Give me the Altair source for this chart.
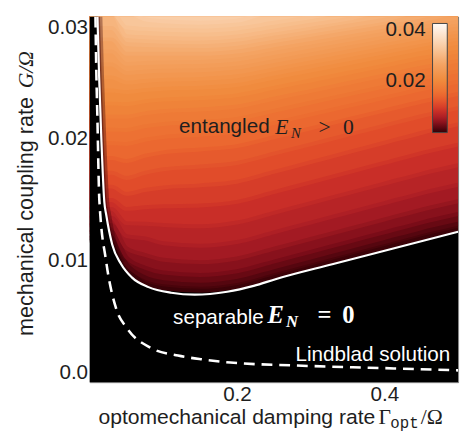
import altair as alt
import pandas as pd

# ---------------- data ----------------
# E_N contour lines traced on the picture: G/Omega of each level at these Gamma/Omega
# (0.0304 = level not reached inside the plotted range)
contour_gamma = [0.0, 0.03, 0.05, 0.075, 0.1, 0.15, 0.2, 0.25, 0.3, 0.35, 0.4, 0.45, 0.5]
levels = [0.0005, 0.0015, 0.003, 0.0045, 0.006, 0.0075, 0.009, 0.0105, 0.012, 0.0135, 0.015, 0.0165,
          0.018, 0.0195, 0.021, 0.0225, 0.024, 0.0255, 0.027, 0.0285, 0.030, 0.0315, 0.033]
band_values = [0.001, 0.00225, 0.00375, 0.00525, 0.00675, 0.00825, 0.00975, 0.01125, 0.01275, 0.01425,
               0.01575, 0.01725, 0.01875, 0.02025, 0.02175, 0.02325, 0.02475, 0.02625, 0.02775, 0.02925,
               0.03075, 0.03225, 0.0337]

L0005 = [0.01162, 0.01162, 0.00944, 0.0081, 0.0077, 0.0075, 0.0078, 0.0086, 0.0094, 0.0102, 0.0110, 0.0118, 0.0125]
L0015 = [0.01185, 0.01185, 0.0097, 0.0086, 0.0082, 0.0080, 0.0083, 0.0091, 0.0099, 0.0107, 0.0115, 0.0123, 0.0130]
L0030 = [0.01233, 0.01233, 0.01025, 0.0094, 0.0090, 0.0088, 0.0091, 0.0099, 0.0107, 0.0115, 0.0123, 0.0131, 0.0138]
L0045 = [0.01288, 0.01288, 0.0110, 0.01045, 0.01005, 0.00985, 0.01015, 0.01095, 0.01175, 0.01255, 0.01335, 0.01415, 0.01485]
L0060 = [0.0135, 0.0135, 0.01198, 0.0118, 0.0114, 0.0112, 0.0115, 0.0123, 0.0131, 0.0139, 0.0147, 0.0155, 0.0162]
L0075 = [0.01422, 0.01422, 0.01305, 0.0130, 0.0129, 0.0128, 0.0131, 0.0139, 0.0147, 0.0155, 0.0163, 0.0171, 0.0178]
L0090 = [0.01495, 0.01495, 0.01422, 0.01435, 0.01443, 0.0145, 0.0148, 0.0156, 0.0164, 0.0172, 0.0180, 0.0188, 0.0195]
L0105 = [0.01605, 0.01605, 0.01545, 0.01577, 0.01598, 0.01615, 0.01645, 0.01725, 0.01805, 0.01885, 0.01965, 0.02045, 0.02115]
L0120 = [0.01718, 0.01718, 0.01676, 0.01718, 0.01747, 0.0177, 0.01799, 0.01875, 0.01952, 0.02029, 0.02105, 0.02182, 0.02249]
L0135 = [0.01839, 0.01839, 0.01815, 0.01858, 0.01886, 0.0191, 0.01937, 0.0201, 0.02083, 0.02156, 0.02229, 0.02301, 0.02365]
L0150 = [0.0196, 0.0196, 0.01955, 0.01989, 0.02011, 0.0203, 0.02056, 0.02126, 0.02195, 0.02265, 0.02334, 0.02404, 0.02465]
L0165 = [0.02071, 0.02071, 0.0207, 0.02099, 0.02119, 0.02135, 0.0216, 0.02227, 0.02293, 0.0236, 0.02426, 0.02493, 0.02551]
L0180 = [0.02179, 0.02179, 0.02179, 0.02206, 0.02223, 0.02238, 0.02262, 0.02326, 0.02389, 0.02453, 0.02517, 0.02581, 0.02637]
L0195 = [0.02286, 0.02286, 0.02282, 0.02304, 0.02319, 0.02331, 0.02354, 0.02415, 0.02476, 0.02537, 0.02598, 0.0266, 0.02713]
L0210 = [0.02393, 0.02393, 0.0238, 0.02397, 0.02408, 0.02417, 0.02439, 0.02498, 0.02557, 0.02615, 0.02674, 0.02733, 0.02785]
L0225 = [0.0250, 0.0250, 0.02458, 0.02472, 0.02481, 0.02489, 0.0251, 0.02567, 0.02624, 0.02681, 0.02738, 0.02794, 0.02844]
L0240 = [0.02607, 0.02607, 0.02538, 0.02548, 0.02555, 0.0256, 0.02581, 0.02635, 0.0269, 0.02745, 0.0280, 0.02855, 0.02903]
L0255 = [0.02714, 0.02714, 0.02612, 0.02619, 0.02624, 0.02628, 0.02648, 0.02701, 0.02754, 0.02807, 0.0286, 0.02913, 0.02959]
L0270 = [0.02813, 0.02813, 0.02695, 0.02695, 0.02695, 0.02695, 0.02714, 0.02765, 0.02816, 0.02867, 0.02918, 0.02969, 0.0304]
L0285 = [0.02906, 0.02906, 0.02775, 0.02767, 0.02762, 0.02758, 0.02777, 0.02826, 0.02875, 0.02925, 0.02974, 0.0304, 0.0304]
L0300 = [0.0304, 0.0304, 0.0284, 0.02831, 0.02825, 0.0282, 0.02838, 0.02885, 0.02933, 0.02981, 0.0304, 0.0304, 0.0304]
L0315 = [0.0304, 0.0304, 0.0291, 0.02899, 0.02892, 0.02886, 0.02903, 0.02949, 0.02995, 0.0304, 0.0304, 0.0304, 0.0304]
L0330 = [0.0304, 0.0304, 0.0304, 0.02978, 0.02962, 0.0295, 0.02967, 0.0304, 0.0304, 0.0304, 0.0304, 0.0304, 0.0304]

contours = [L0005, L0015, L0030, L0045, L0060, L0075, L0090, L0105, L0120, L0135, L0150, L0165,
            L0180, L0195, L0210, L0225, L0240, L0255, L0270, L0285, L0300, L0315, L0330]

# separable / entangled boundary E_N = 0 (solid white)
boundary_gamma = [0.0107, 0.013, 0.016, 0.020, 0.0227, 0.0307, 0.0427, 0.0573, 0.08, 0.1107, 0.1427,
                  0.1867, 0.2227, 0.2533, 0.3293, 0.4173, 0.5]
boundary_G = [0.030, 0.025, 0.0199, 0.0148, 0.0137, 0.0113, 0.0097, 0.0086, 0.0078, 0.00734, 0.00718,
              0.00742, 0.0079, 0.00847, 0.00968, 0.01105, 0.01234]

# Lindblad solution (dashed white)
lindblad_gamma = [0.008, 0.009, 0.0105, 0.0133, 0.0227, 0.036, 0.0507, 0.0827, 0.12, 0.156,
                  0.191, 0.28, 0.413, 0.5]
lindblad_G = [0.030, 0.026, 0.022, 0.0149, 0.00984, 0.00605, 0.00444, 0.00282, 0.00218, 0.00185,
              0.00161, 0.00137, 0.00113, 0.00097]

color_domain = [0, 0.003, 0.0055, 0.0085, 0.011, 0.0145, 0.02, 0.0265, 0.032, 0.037, 0.042]
color_range = ["#300005", "#7a0c18", "#a81c24", "#cc3028", "#e04a2a", "#ec6a30",
               "#f08a3c", "#f4a464", "#f8c598", "#fce0c8", "#fffaf6"]
# same colour stops for the contour edges, kept as a separate (legend-free) stroke scale
edge_domain = [0, 0.003, 0.0055, 0.0085, 0.011, 0.0145, 0.02, 0.0265, 0.032, 0.037, 0.0420001]

x_ticks = [0.2, 0.4]
y_ticks = [0, 0.01, 0.02, 0.03]
cbar_labels = ["0.04", "0.02"]

SANS = "Liberation Sans"
SERIF = "Liberation Serif"
MONO = "Liberation Mono"
INK = "#1e1e1e"

xs = alt.Scale(domain=[0, 0.5], nice=False, zero=False)
ys = alt.Scale(domain=[0, 0.03], nice=False, zero=False)
cs = alt.Scale(domain=color_domain, range=color_range, interpolate="rgb")
es = alt.Scale(domain=edge_domain, range=color_range, interpolate="rgb")

x_axis = alt.Axis(values=x_ticks, format=".1f", title=None, ticks=False, domain=False, grid=False,
                  labelFontSize=21, labelFont=SANS, labelColor=INK, labelPadding=2)
y_axis = alt.Axis(values=y_ticks, labelExpr="datum.value == 0 ? '0.0' : format(datum.value, '.2f')",
                  title=None, ticks=False, domain=False, grid=False, labelFontSize=21, labelFont=SANS,
                  labelColor=INK, labelPadding=2, labelFlush=True)
legend = alt.Legend(orient="none", legendX=349, legendY=7, direction="vertical", title=None,
                    type="gradient", gradientLength=111, gradientThickness=15, labelExpr="''",
                    values=[0.02, 0.04], gradientStrokeColor="#444444", gradientStrokeWidth=1, padding=0)

X = alt.X("g0:Q", scale=xs, axis=x_axis)
Y = alt.Y("G0:Q", scale=ys, axis=y_axis)

# filled contour bands, lowest level first; each contour edge drawn in the level colour
bands = []
for lv, bv, Gs in zip(levels, band_values, contours):
    n = len(Gs)
    df = pd.DataFrame({"g0": contour_gamma, "G0": Gs, "band": [bv] * n})
    ldf = pd.DataFrame({"g0": contour_gamma, "G0": Gs, "edge": [lv] * n})
    bands.append(
        alt.Chart(df).mark_area(interpolate="monotone", clip=True).encode(
            x=X, y=Y, y2=alt.datum(0.031),
            color=alt.Color("band:Q", scale=cs, legend=legend))
    )
    bands.append(
        alt.Chart(ldf).mark_line(interpolate="monotone", clip=True, strokeWidth=4).encode(
            x=X, y=Y, stroke=alt.Stroke("edge:Q", scale=es, legend=None))
    )

mask_df = pd.DataFrame({"g0": [0.0] + boundary_gamma, "G0": [0.03] + boundary_G})
bound_df = pd.DataFrame({"g0": boundary_gamma, "G0": boundary_G})
fringe_df = pd.DataFrame({"g0": boundary_gamma[:7], "G0": boundary_G[:7]})
lind_df = pd.DataFrame({"g0": lindblad_gamma, "G0": lindblad_G})

fringe1 = alt.Chart(fringe_df).mark_line(color="#3a0006", strokeWidth=10, opacity=0.35,
                                         interpolate="monotone", clip=True).encode(x=X, y=Y)
fringe2 = alt.Chart(fringe_df).mark_line(color="#3a0006", strokeWidth=5, opacity=0.45,
                                         interpolate="monotone", clip=True).encode(x=X, y=Y)
mask = alt.Chart(mask_df).mark_area(color="black", interpolate="monotone", clip=True).encode(
    x=X, y=Y, y2=alt.datum(0))
bound = alt.Chart(bound_df).mark_line(color="white", strokeWidth=2.2, interpolate="monotone",
                                      clip=True).encode(x=X, y=Y)
lind = alt.Chart(lind_df).mark_line(color="white", strokeWidth=2.6, strokeDash=[11, 7],
                                    interpolate="monotone", clip=True).encode(x=X, y=Y)

one = pd.DataFrame({"k": [0]})


def label(text, x, y, size, color=INK, font=SANS, style="normal", weight="normal", angle=0, align="left"):
    return alt.Chart(one).mark_text(
        text=text, font=font, fontSize=size, fontStyle=style, fontWeight=weight, color=color,
        align=align, baseline="alphabetic", angle=angle).encode(x=alt.value(x), y=alt.value(y))


texts = [
    label(cbar_labels[0], 342, 20, 21, align="right"),
    label(cbar_labels[1], 342, 72, 21, align="right"),
    label("entangled", 91, 118, 21),
    label("E", 189, 119, 22, font=SERIF, style="italic"),
    label("N", 205, 124, 15, font=SERIF, style="italic"),
    label(">", 233, 119, 22, font=SERIF),
    label("0", 258, 119, 22, font=SERIF),
    label("separable", 85, 313, 21, color="white"),
    label("E", 181, 312, 25, color="white", font=SERIF, style="italic", weight="bold"),
    label("N", 200, 316, 17, color="white", font=SERIF, style="italic", weight="bold"),
    label("=", 232, 312, 25, color="white", font=SERIF, weight="bold"),
    label("0", 257, 312, 25, color="white", font=SERIF, weight="bold"),
    label("Lindblad solution", 367, 350, 21, color="white", align="right"),
    label("optomechanical damping rate", 9, 415, 21.5),
    label("Γ", 294, 415, 22, font=SERIF),
    label("opt", 306, 419, 16, font=MONO),
    label("/Ω", 337, 415, 22, font=SERIF),
    label("mechanical coupling rate", -58, 325, 22, angle=270),
    label("G/Ω", -58, 73, 22, font=SERIF, style="italic", angle=270),
]

chart = alt.layer(*bands, fringe1, fringe2, mask, bound, lind, *texts).properties(
    width=375, height=372,
    padding={"left": 83, "top": 5, "right": 5, "bottom": 50},
    autosize=alt.AutoSizeParams(type="none"),
).configure_view(fill="black", stroke="#8a8a8a", strokeWidth=1)

chart.save("out.html", embed_options={"renderer": "svg", "actions": False})
